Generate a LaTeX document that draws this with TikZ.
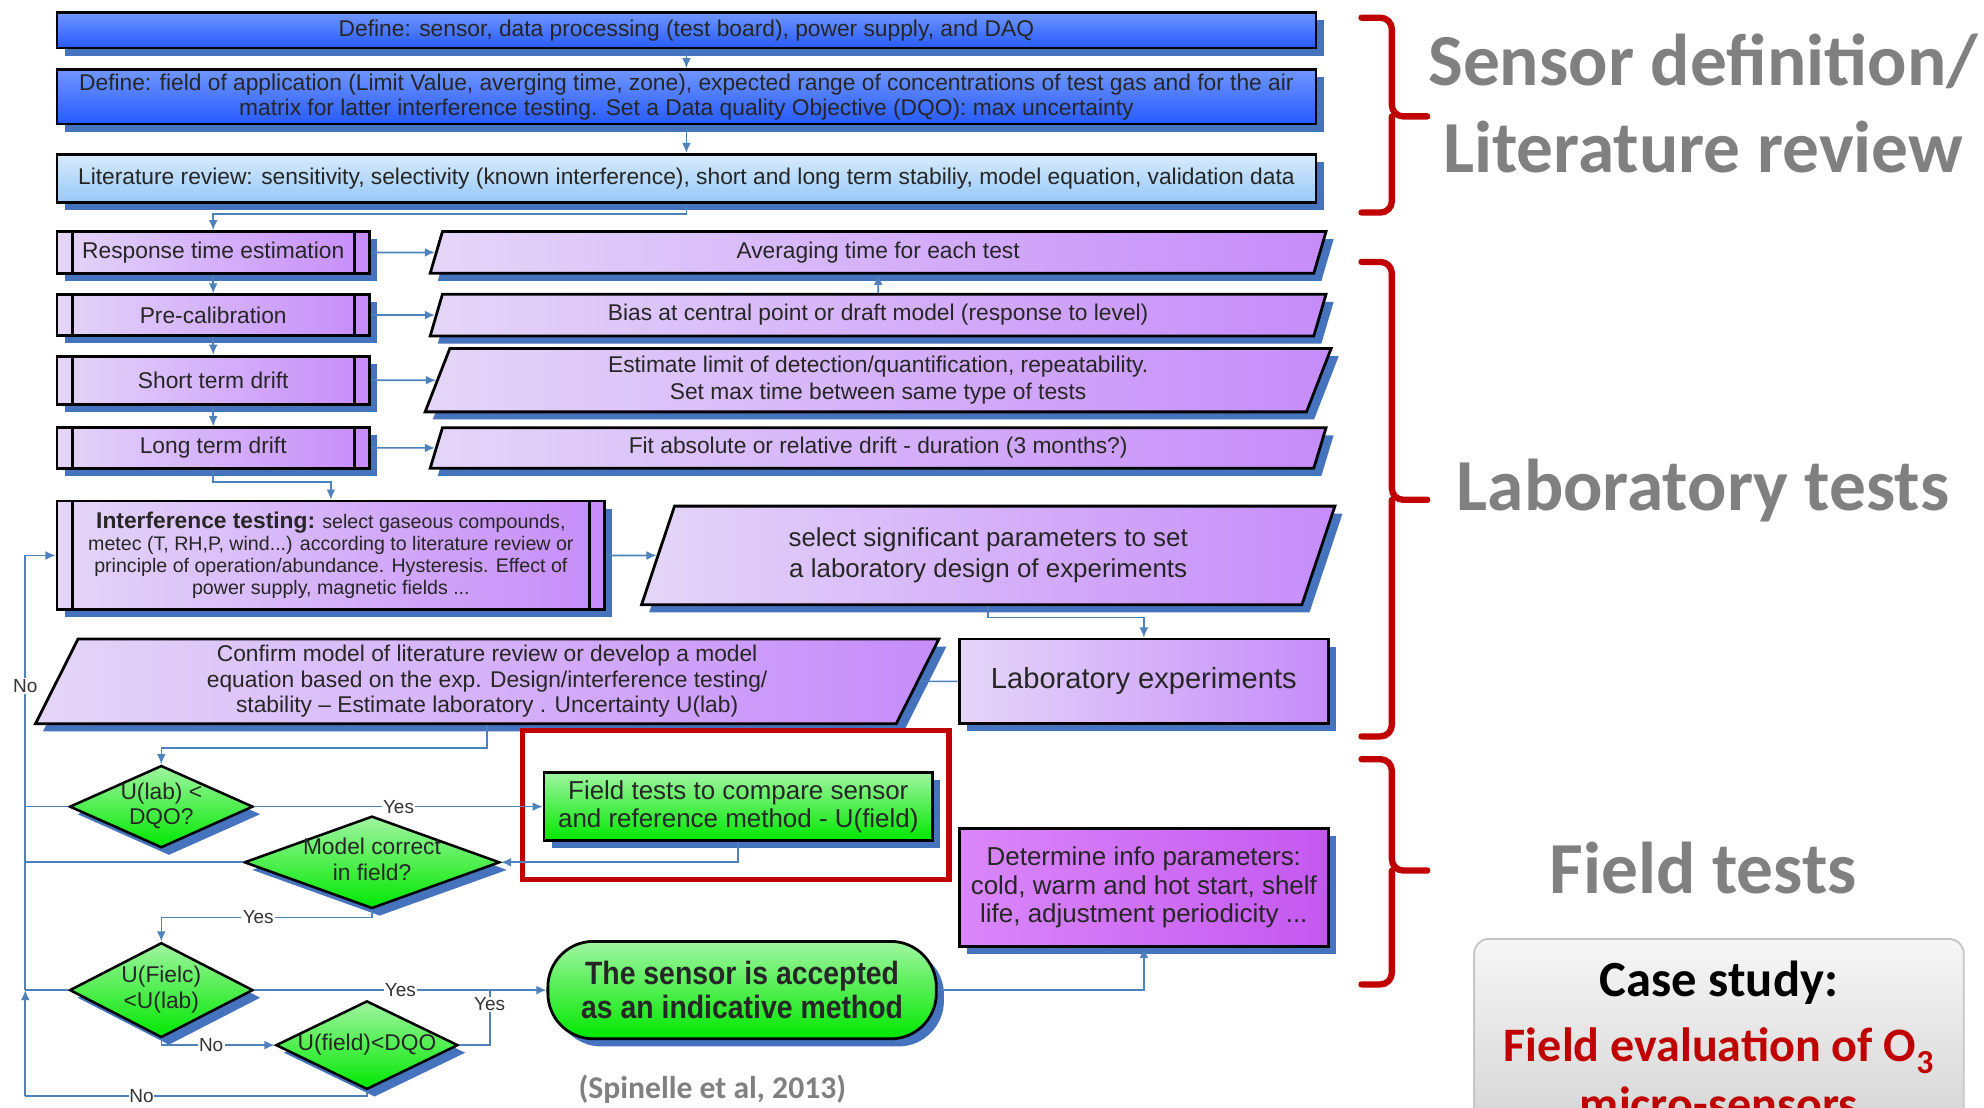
\documentclass[tikz,border=0pt]{standalone}
\usepackage{fontspec}
\setmainfont{Liberation Sans}
\newfontfamily\calibri{Carlito}
\newfontfamily\narrowsans[FakeStretch=0.88]{Liberation Sans}
\usetikzlibrary{shapes.geometric,shadows,arrows.meta,positioning}

\definecolor{linkblue}{RGB}{79,129,189}
\definecolor{shadowblue}{RGB}{70,115,190}
\definecolor{brred}{RGB}{192,0,0}
\definecolor{titlegray}{RGB}{128,128,128}
\definecolor{blueA}{RGB}{112,150,255}
\definecolor{blueB}{RGB}{38,90,255}
\definecolor{skyA}{RGB}{216,235,252}
\definecolor{skyB}{RGB}{150,200,248}
\definecolor{lilacA}{RGB}{228,214,248}
\definecolor{lilacB}{RGB}{198,140,250}
\definecolor{violetA}{RGB}{218,135,250}
\definecolor{violetB}{RGB}{196,88,240}
\definecolor{greenA}{RGB}{160,245,160}
\definecolor{greenB}{RGB}{0,232,0}

% text of a decision, kept out of the diamond size
\newcommand{\dtext}[1]{\makebox[0pt]{\smash{\raisebox{-0.25em}{\begin{tabular}{@{}c@{}}#1\end{tabular}}}}}

\tikzstyle{boxbase} = [draw=black, line width=2.2pt, align=center, text=black!85, inner sep=2pt,
    drop shadow={shadow xshift=6pt, shadow yshift=-6pt, fill=shadowblue, opacity=1}]
\tikzstyle{bluebox} = [boxbase, rectangle, top color=blueA, bottom color=blueB, font=\fontsize{18}{20}\selectfont]
\tikzstyle{skybox} = [boxbase, rectangle, top color=skyA, bottom color=skyB, font=\fontsize{18}{20}\selectfont]
\tikzstyle{procbox} = [boxbase, rectangle, left color=lilacA, right color=lilacB, minimum width=247pt,
    font=\fontsize{18}{20}\selectfont,
    path picture={\draw[line width=2.2pt]
        ([xshift=12pt]path picture bounding box.north west) -- ([xshift=12pt]path picture bounding box.south west)
        ([xshift=-12pt]path picture bounding box.north east) -- ([xshift=-12pt]path picture bounding box.south east);}]
\tikzstyle{slantbox} = [boxbase, trapezium, trapezium left angle=65, trapezium right angle=115,
    trapezium stretches body=true, left color=lilacA, right color=lilacB, font=\fontsize{18}{21}\selectfont]
\tikzstyle{labbox} = [boxbase, rectangle, left color=lilacA, right color=lilacB, font=\fontsize{23}{26}\selectfont]
\tikzstyle{infobox} = [boxbase, rectangle, left color=violetA, right color=violetB, font=\fontsize{20.5}{22.5}\selectfont]
\tikzstyle{fieldbox} = [boxbase, rectangle, top color=greenA, bottom color=greenB, font=\fontsize{20.5}{22}\selectfont]
\tikzstyle{endbox} = [boxbase, rectangle, rounded corners=36pt, top color=greenA, bottom color=greenB,
    font=\narrowsans\bfseries\fontsize{25.5}{27}\selectfont]
\tikzstyle{decision} = [boxbase, diamond, inner sep=0pt, line width=2pt, top color=greenA, bottom color=greenB,
    font=\fontsize{18}{20}\selectfont]
\tikzstyle{conn} = [draw=linkblue, line width=1.3pt]
\tikzstyle{flow} = [conn, -{Latex[length=8pt,width=7pt]}]
\tikzstyle{lbl} = [fill=white, inner sep=1pt, text=black!80, font=\fontsize{15}{15}\selectfont]
\tikzstyle{bracket} = [draw=brred, line width=5pt, rounded corners=9pt, line cap=round]
\tikzstyle{sectitle} = [font=\calibri\bfseries\fontsize{58}{69}\selectfont, text=titlegray, align=center]

\begin{document}
\begin{tikzpicture}[x=1pt, y=-1pt]
\fill[white] (0,0) rectangle (1568,875);
\clip (0,0) rectangle (1568,875);

% sensor definition / literature review
\node[bluebox, minimum width=995pt, minimum height=28pt] (defsensor) at (542.5,24)
    {Define: sensor, data processing (test board), power supply, and DAQ};
\node[bluebox, minimum width=995pt, minimum height=43pt] (defappl) at (542.5,76.5)
    {Define: field of application (Limit Value, averging time, zone), expected range of concentrations  of test gas and for the air\\
     matrix for latter interference testing. Set a Data quality Objective (DQO): max uncertainty};
\node[skybox, minimum width=995pt, minimum height=38pt] (litrev) at (542.5,141)
    {Literature review: sensitivity, selectivity (known interference), short and long  term stabiliy, model equation, validation data};

% laboratory tests
\node[procbox, minimum height=33pt] (resp) at (168.5,199.5) {Response time estimation};
\node[procbox, minimum height=32pt] (precal) at (168.5,249) {Pre-calibration};
\node[procbox, minimum height=38pt] (shortdrift) at (168.5,300.5) {Short term drift};
\node[procbox, minimum height=32pt] (longdrift) at (168.5,354) {Long term drift};

\node[slantbox, minimum width=708pt, minimum height=33pt] (avg) at (694,199.5) {Averaging time for each test};
\node[slantbox, minimum width=708pt, minimum height=33pt] (bias) at (694,249) {Bias at central point or draft model (response to level)};
\node[slantbox, minimum width=716pt, minimum height=50pt] (estim) at (694,300.5)
    {Estimate limit of detection/quantification, repeatability.\\Set max time between same type of tests};
\node[slantbox, minimum width=708pt, minimum height=32pt] (fitdrift) at (694,354) {Fit absolute or relative drift - duration (3 months?)};

\node[procbox, minimum width=433pt, minimum height=86pt, font=\fontsize{15.5}{17.5}\selectfont] (interf) at (261.5,439)
    {{\fontsize{18}{17.5}\selectfont\bfseries Interference testing:} select gaseous compounds,\\
     metec (T, RH,P, wind...) according to literature review or\\
     principle of operation/abundance. Hysteresis. Effect of\\
     power supply, magnetic fields ...};
\node[slantbox, trapezium left angle=61, trapezium right angle=119, minimum width=548pt, minimum height=78pt,
    font=\fontsize{20.5}{24}\selectfont] (sel) at (781,439)
    {select significant parameters to set\\a laboratory design of experiments};
\node[labbox, minimum width=292pt, minimum height=67pt] (labexp) at (904,538.5) {Laboratory experiments};
\node[slantbox, trapezium left angle=61, trapezium right angle=119, minimum width=714pt, minimum height=67pt,
    font=\fontsize{18}{20}\selectfont] (confirm) at (385,538.5)
    {Confirm model of literature review or develop a model\\
     equation based on the exp. Design/interference testing/\\
     stability – Estimate laboratory . Uncertainty U(lab)};

% field tests
\node[draw=brred, line width=4pt, minimum width=337pt, minimum height=118pt] (focus) at (581.5,636) {};
\node[decision, minimum width=145pt, minimum height=65pt] (labdqo) at (127.5,637.5) {\dtext{U(lab) <\\DQO?}};
\node[fieldbox, minimum width=307pt, minimum height=54pt] (field) at (583.5,637.5)
    {Field tests to compare sensor\\and reference method - U(field)};
\node[decision, minimum width=202pt, minimum height=73pt] (model) at (294,681.5) {\dtext{Model correct\\in field?}};
\node[infobox, minimum width=292pt, minimum height=93pt] (determine) at (904,701.5)
    {Determine info parameters:\\cold, warm and hot start, shelf\\life, adjustment periodicity ...};
\node[decision, minimum width=145pt, minimum height=75pt] (fieldlab) at (127.5,782.5) {\dtext{U(Fielc)\\<U(lab)}};
\node[decision, minimum width=144pt, minimum height=70pt] (fielddqo) at (290,826) {\dtext{U(field)<DQO}};
\node[endbox, minimum width=307pt, minimum height=77pt] (accept) at (586.5,782.5)
    {The sensor is accepted\\as an indicative method};

\coordinate (loopbot) at (20,866);
\coordinate (yesjoin) at (387,782.5);

% connectors
\draw[flow] (defsensor.south) -- (defappl.north);
\draw[flow] (defappl.south) -- (litrev.north);
\draw[flow] (litrev.south) -- ++(0,8) -| (resp.north);
\draw[flow] (resp.south) -- (precal.north);
\draw[flow] (precal.south) -- (shortdrift.north);
\draw[flow] (shortdrift.south) -- (longdrift.north);
\draw[flow] (longdrift.south) -- ++(0,10) -| (interf.north);
\draw[flow] (resp.east) -- (avg.west);
\draw[flow] (precal.east) -- (bias.west);
\draw[flow] (shortdrift.east) -- (estim.west);
\draw[flow] (longdrift.east) -- (fitdrift.west);
\draw[flow] (bias.north) -- (avg.south);
\draw[flow] (interf.east) -- (sel.west);
\draw[flow] (sel.south) -- ++(0,9) -| (labexp.north);
\draw[conn] (labexp.west) -- (confirm.east);
\draw[flow] (confirm.south) -- ++(0,18) -| (labdqo.north);
\draw[flow] (labdqo.east) -- node[lbl] (yes1) {Yes} (field.west);
\draw[flow] (field.south) |- (model.east);
\draw[flow] (model.south) -- ++(0,6) -| node[lbl, pos=0.27] (yes2) {Yes} (fieldlab.north);
\draw[flow] (fieldlab.east) -- node[lbl] (yes3) {Yes} (accept.west);
\draw[flow] (fieldlab.south) |- node[lbl, pos=0.72] (no1) {No} (fielddqo.west);
\draw[conn] (fielddqo.east) -| node[lbl, pos=0.87] (yes4) {Yes} (yesjoin);
\draw[flow] (accept.east) -| (determine.south);
\draw[conn] (fielddqo.south) |- node[lbl, pos=0.83, inner sep=0.5pt] (no2) {No} (loopbot);
\draw[flow] (loopbot) -- (loopbot |- fieldlab.west);
\draw[flow] (loopbot |- fieldlab.west) |- node[lbl, pos=0.35] (no3) {No} (interf.west);
\draw[conn] (labdqo.west) -- (labdqo.west -| loopbot);
\draw[conn] (model.west) -- (model.west -| loopbot);
\draw[conn] (fieldlab.west) -- (fieldlab.west -| loopbot);

\node[font=\calibri\bfseries\fontsize{25}{30}\selectfont, text=titlegray] (cite) at (563,861) {(Spinelle et al, 2013)};

% stages
\draw[bracket] (1076,14) -- (1100,14) -- (1100,92) -- (1128,92) (1100,92) -- (1100,168) -- (1076,168);
\draw[bracket] (1076,207) -- (1100,207) -- (1100,395) -- (1128,395) (1100,395) -- (1100,582) -- (1076,582);
\draw[bracket] (1076,600) -- (1100,600) -- (1100,688) -- (1128,688) (1100,688) -- (1100,778) -- (1076,778);
\node[sectitle] (sensdef) at (1346,82) {Sensor definition/\\Literature review};
\node[sectitle] (labtests) at (1346,388) {Laboratory tests};
\node[sectitle] (fieldtests) at (1346,686) {Field tests};

% case study
\node[draw=gray!45, line width=1.5pt, rounded corners=12pt, top color=gray!7, bottom color=gray!38,
    minimum width=387pt, minimum height=180pt] (casestudy) at (1358.5,832) {};
\node[font=\calibri\bfseries\fontsize{40}{48}\selectfont] (casetitle) at (1358.5,777) {Case study:};
\node[font=\calibri\bfseries\fontsize{38}{46}\selectfont, text=brred, align=center] (casetext) at (1358.5,849)
    {Field evaluation of O\textsubscript{3}\\micro-sensors};
\end{tikzpicture}
\end{document}
